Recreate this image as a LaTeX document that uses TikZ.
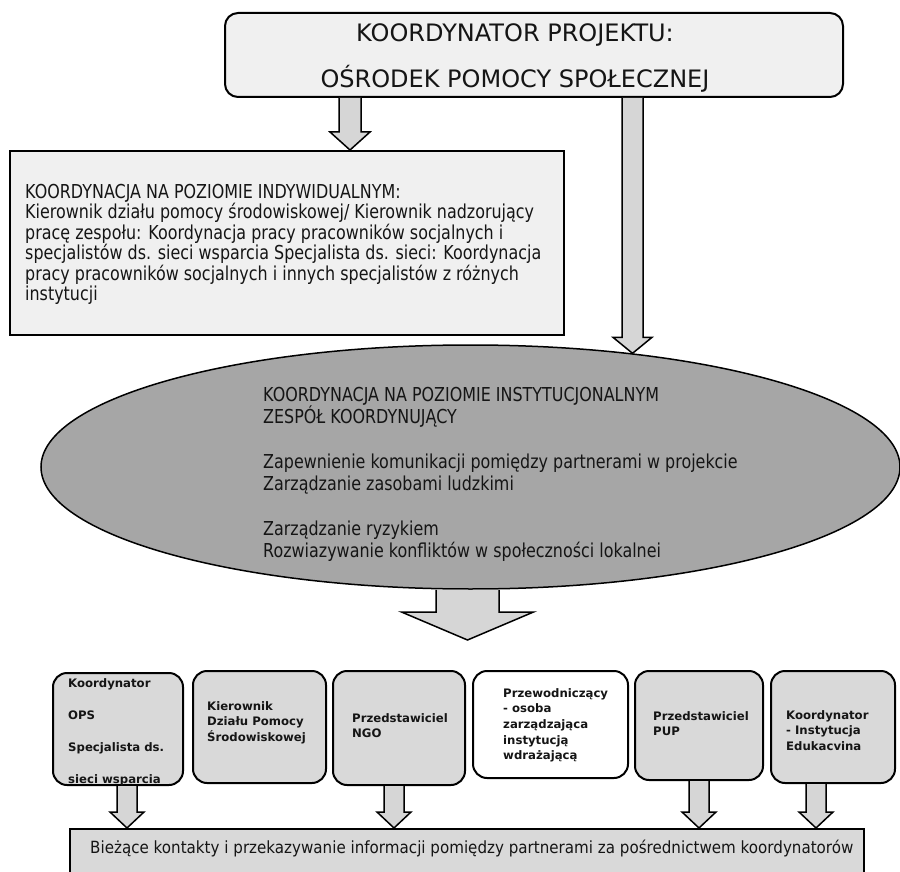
\documentclass[tikz,border=0pt]{standalone}
\usepackage{fontspec}
\setmainfont{DejaVu Sans}
\newfontfamily\narrowfont[FakeStretch=0.83]{DejaVu Sans}
\newfontfamily\barfont[FakeStretch=0.9]{DejaVu Sans}
\usetikzlibrary{shapes.geometric,calc}
\definecolor{boxlight}{HTML}{F0F0F0}
\definecolor{boxgray}{HTML}{D9D9D9}
\definecolor{ellgray}{HTML}{A6A6A6}
\definecolor{arrowgray}{HTML}{D6D6D6}
\definecolor{ink}{HTML}{151515}
\tikzset{
  frame/.style={draw=black, line width=2pt},
  topbox/.style={frame, fill=boxlight, rounded corners=13pt, inner sep=0pt,
    minimum width=618pt, minimum height=84pt},
  indbox/.style={frame, fill=boxlight, inner sep=0pt,
    minimum width=554pt, minimum height=184pt},
  ellbox/.style={ellipse, draw=black, line width=1.5pt, fill=ellgray, inner sep=0pt,
    minimum width=859pt, minimum height=244pt},
  member/.style={frame, fill=boxgray, rounded corners=14pt, inner sep=0pt},
  memberw/.style={member, fill=white},
  barbox/.style={frame, fill=boxgray, inner sep=0pt, minimum width=794pt, minimum height=61pt},
  txt/.style={inner sep=0pt, text=ink},
  toptxt/.style={txt, anchor=base, font=\fontsize{24}{28}\selectfont},
  bodytxt/.style={txt, anchor=north west, align=left},
  boldtxt/.style={txt, anchor=north west, align=left, font=\bfseries\fontsize{11.7}{15.7}\selectfont},
  barrowstyle/.style={draw=black, line width=1.5pt, fill=arrowgray, line join=miter},
}
% block arrow: #1 start, #2 tip, #3 shaft half width, #4 head half width, #5 head length
\newcommand\blockarrow[5]{%
  \draw[barrowstyle] ($(#1)+(-#3,0)$) -- ($(#2)+(-#3,-#5)$) -- ($(#2)+(-#4,-#5)$) -- (#2)
    -- ($(#2)+(#4,-#5)$) -- ($(#2)+(#3,-#5)$) -- ($(#1)+(#3,0)$);}
\begin{document}
\begin{tikzpicture}[x=1pt,y=-1pt]
\useasboundingbox (0,0) rectangle (900,872);
\fill[white] (0,0) rectangle (900,872);

% top box
\node[topbox] (top) at (534,55) {};
\node[toptxt] (toptxt1) at (515,42) {KOORDYNATOR PROJEKTU:};
\node[toptxt] (toptxt2) at (515,88) {OŚRODEK POMOCY SPOŁECZNEJ};

% individual level box
\node[indbox] (ind) at (287,243) {};
\node[bodytxt, font=\narrowfont\fontsize{19.2}{20.4}\selectfont] (indtxt) at (25,184)
 {KOORDYNACJA NA POZIOMIE INDYWIDUALNYM:\\
  Kierownik działu pomocy środowiskowej/ Kierownik nadzorujący\\
  pracę zespołu: Koordynacja pracy pracowników socjalnych i\\
  specjalistów ds. sieci wsparcia Specjalista ds. sieci: Koordynacja\\
  pracy pracowników socjalnych i innych specjalistów z różnych\\
  instytucji};

% institutional ellipse
\node[ellbox] (ell) at (470.5,467) {};
\node[bodytxt, font=\narrowfont\fontsize{19.2}{22.3}\selectfont] (elltxt) at (263,387)
 {KOORDYNACJA NA POZIOMIE INSTYTUCJONALNYM\\
  ZESPÓŁ KOORDYNUJĄCY\\[22.3pt]
  Zapewnienie komunikacji pomiędzy partnerami w projekcie\\
  Zarządzanie zasobami ludzkimi\\[22.3pt]
  Zarządzanie ryzykiem\\
  Rozwiazywanie konfliktów w społeczności lokalnei};

% member boxes
\node[member, minimum width=130pt, minimum height=112pt] (b1) at (118,729) {};
\node[member, minimum width=133pt, minimum height=112pt] (b2) at (259.5,727) {};
\node[member, minimum width=132pt, minimum height=114pt] (b3) at (399,728) {};
\node[memberw, minimum width=155pt, minimum height=107pt] (b4) at (550.5,724.5) {};
\node[member, minimum width=128pt, minimum height=109pt] (b5) at (699,725.5) {};
\node[member, minimum width=124pt, minimum height=112pt] (b6) at (833,727) {};

\node[boldtxt, font=\bfseries\fontsize{11.7}{32}\selectfont] (b1t) at (68,678.5)
 {Koordynator\\OPS\\Specjalista ds.\\sieci wsparcia};
\node[boldtxt] (b2t) at (207,701) {Kierownik\\Działu Pomocy\\Środowiskowej};
\node[boldtxt] (b3t) at (352,713) {Przedstawiciel\\NGO};
\node[boldtxt] (b4t) at (503,688) {Przewodniczący\\- osoba\\zarządzająca\\instytucją\\wdrażającą};
\node[boldtxt] (b5t) at (653,711) {Przedstawiciel\\PUP};
\node[boldtxt] (b6t) at (786,710) {Koordynator\\- Instytucja\\Edukacvina};

% bottom bar
\node[barbox] (bar) at (467,859.5) {};
\node[txt, anchor=base west, font=\barfont\fontsize{16.8}{20}\selectfont] (bartxt) at (90,853)
 {Bieżące kontakty i przekazywanie informacji pomiędzy partnerami za pośrednictwem koordynatorów};

% arrow columns
\coordinate (xa1) at (350,0);
\coordinate (xa2) at (632.5,0);
\coordinate (xa3) at (467.5,0);
\coordinate (xb1) at (127,0);
\coordinate (xb2) at (394,0);
\coordinate (xb3) at (699,0);
\coordinate (xb4) at (816,0);

\coordinate (a1s) at (top.south -| xa1);
\coordinate (a1e) at (ind.north -| xa1);
\coordinate (a2s) at (top.south -| xa2);
\coordinate (a2e) at (ell.35 -| xa2);
\coordinate (a3s) at (ell.south -| xa3);
\coordinate (a3e) at (467.5,640);
\coordinate (c1s) at (b1.south -| xb1);
\coordinate (c1e) at (bar.north -| xb1);
\coordinate (c2s) at (b3.south -| xb2);
\coordinate (c2e) at (bar.north -| xb2);
\coordinate (c3s) at (b5.south -| xb3);
\coordinate (c3e) at (bar.north -| xb3);
\coordinate (c4s) at (b6.south -| xb4);
\coordinate (c4e) at (bar.north -| xb4);

\blockarrow{a1s}{a1e}{11}{20}{18}
\blockarrow{a2s}{a2e}{10.5}{19.5}{16}
\blockarrow{a3s}{a3e}{31.5}{66}{28}
\blockarrow{c1s}{c1e}{10}{17}{16}
\blockarrow{c2s}{c2e}{10}{17}{16}
\blockarrow{c3s}{c3e}{10}{17}{16}
\blockarrow{c4s}{c4e}{10}{17}{16}
\end{tikzpicture}
\end{document}
